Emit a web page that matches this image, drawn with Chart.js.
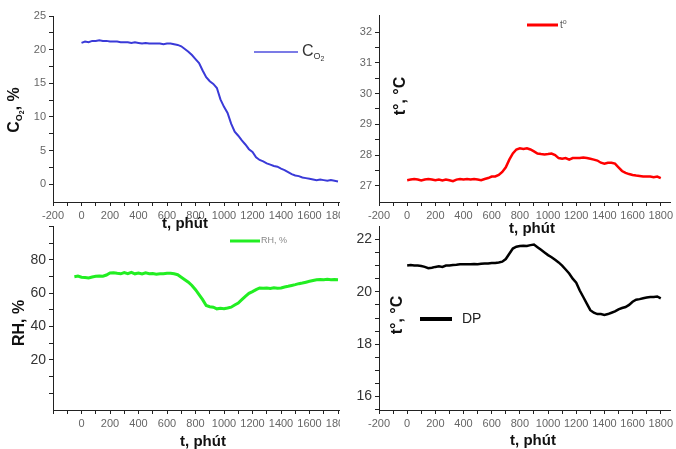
<!DOCTYPE html>
<html>
<head>
<meta charset="utf-8">
<script src="https://cdn.jsdelivr.net/npm/chart.js@4.4.1/dist/chart.umd.min.js"></script>
<style>
  html, body { margin: 0; padding: 0; background: #fff; }
  #wrap { position: relative; width: 676px; height: 449px; overflow: hidden; }
  .box { position: absolute; overflow: hidden; }
  .box canvas { position: absolute; }
</style>
</head>
<body>
<div id="wrap">
  <div class="box" style="left:0;top:0;width:340px;height:232px"><canvas id="c1" width="676" height="449" style="left:0;top:0"></canvas></div>
  <div class="box" style="left:336px;top:0;width:340px;height:236px"><canvas id="c2" width="676" height="449" style="left:-336px;top:0"></canvas></div>
  <div class="box" style="left:0;top:225px;width:340px;height:224px"><canvas id="c3" width="676" height="449" style="left:0;top:-225px"></canvas></div>
  <div class="box" style="left:336px;top:225px;width:340px;height:224px"><canvas id="c4" width="676" height="449" style="left:-336px;top:-225px"></canvas></div>
</div>
<script>
// thoi gian (phut)
const minutes = [0,25,50,75,100,125,150,175,200,225,250,275,300,325,350,375,400,425,450,475,
  500,525,550,575,600,625,650,675,700,725,750,775,800,825,850,875,900,925,950,975,
  1000,1025,1050,1075,1100,1125,1150,1175,1200,1225,1250,1275,1300,1325,1350,1375,1400,1425,1450,1475,
  1500,1525,1550,1575,1600,1625,1650,1675,1700,1725,1750,1775,1800];
const rhMinutes = [-50,-25].concat(minutes);

const co2 = [21.0,21.2,21.1,21.3,21.3,21.4,21.3,21.3,21.2,21.2,21.2,21.1,21.1,21.1,21.0,21.1,21.0,20.9,21.0,20.9,
  20.9,20.9,20.9,20.8,20.9,20.9,20.8,20.7,20.5,20.1,19.7,19.2,18.6,18.0,16.9,15.9,15.3,14.9,14.3,12.6,
  11.5,10.6,9.0,7.8,7.2,6.5,5.9,5.2,4.8,4.0,3.6,3.4,3.1,2.9,2.7,2.6,2.3,2.1,1.8,1.5,
  1.3,1.2,1.0,0.9,0.8,0.7,0.6,0.7,0.6,0.5,0.6,0.5,0.4];

const temp = [27.18,27.2,27.22,27.2,27.17,27.2,27.22,27.2,27.18,27.2,27.17,27.2,27.18,27.15,27.2,27.22,27.2,27.22,27.2,27.22,
  27.2,27.18,27.22,27.25,27.3,27.3,27.35,27.45,27.6,27.85,28.05,28.18,28.22,28.2,28.22,28.18,28.12,28.05,28.03,28.02,
  28.03,28.05,28.0,27.9,27.88,27.9,27.85,27.9,27.9,27.9,27.92,27.9,27.88,27.85,27.82,27.75,27.72,27.75,27.75,27.72,
  27.6,27.48,27.42,27.38,27.35,27.33,27.32,27.3,27.3,27.3,27.28,27.3,27.25];

const rh = [69.8,70.2,69.5,69.3,69.0,69.6,70.0,70.2,70.1,70.8,72.0,72.2,71.8,71.5,72.3,71.6,72.4,71.5,72.0,71.4,72.1,71.6,
  71.7,71.3,71.6,71.5,71.8,71.9,71.5,71.0,69.5,68.0,66.5,64.5,62.0,59.0,56.0,52.5,51.8,51.5,50.5,50.8,
  50.6,51.0,51.5,52.8,54.0,56.0,58.0,59.8,60.8,62.0,63.0,62.8,63.0,62.7,63.1,62.8,63.0,63.6,64.0,64.5,
  65.0,65.6,66.0,66.5,67.0,67.5,68.0,68.1,68.0,68.2,68.0,68.1,68.0];

const dp = [21.0,21.02,21.0,21.0,20.98,20.95,20.9,20.92,20.95,20.97,20.95,21.0,21.0,21.02,21.03,21.05,21.05,21.05,21.05,21.06,
  21.05,21.07,21.08,21.08,21.1,21.1,21.12,21.15,21.25,21.45,21.65,21.72,21.75,21.76,21.75,21.78,21.8,21.7,21.6,21.5,
  21.4,21.32,21.22,21.12,21.0,20.85,20.7,20.5,20.35,20.05,19.8,19.55,19.3,19.2,19.15,19.15,19.12,19.15,19.2,19.25,
  19.33,19.38,19.42,19.5,19.62,19.7,19.72,19.75,19.78,19.8,19.8,19.82,19.75];

// vach chia truc
const xTicks = [-200,-100,0,100,200,300,400,500,600,700,800,900,1000,1100,1200,1300,1400,1500,1600,1700,1800];
const xLabels = [-200,0,200,400,600,800,1000,1200,1400,1600,1800];
const xLabelsRH = [0,200,400,600,800,1000,1200,1400,1600,1800];

const co2Ticks = [0,2.5,5,7.5,10,12.5,15,17.5,20,22.5,25];
const co2Labels = [0,5,10,15,20,25];
const tempTicks = [27,27.5,28,28.5,29,29.5,30,30.5,31,31.5,32];
const tempLabels = [27,28,29,30,31,32];
const rhTicks = [0,10,20,30,40,50,60,70,80,90,100];
const rhLabels = [20,40,60,80];
const dpTicks = [15.5,16,16.5,17,17.5,18,18.5,19,19.5,20,20.5,21,21.5,22];
const dpLabels = [16,18,20,22];

const FONT = "'Liberation Sans', Arial, sans-serif";

function drawRich(ctx, x, y, segs, rotate, center) {
  ctx.save();
  ctx.translate(x, y);
  if (rotate) ctx.rotate(-Math.PI / 2);
  let total = 0;
  segs.forEach(s => { ctx.font = s.font; total += ctx.measureText(s.t).width; });
  let cx = center ? -total / 2 : 0;
  ctx.textBaseline = 'middle';
  ctx.textAlign = 'left';
  segs.forEach(s => {
    ctx.font = s.font;
    ctx.fillStyle = s.color || '#111';
    ctx.fillText(s.t, cx, s.dy || 0);
    cx += ctx.measureText(s.t).width;
  });
  ctx.restore();
}

function makePanel(id, p) {
  const items = p.items;
  const textPlugin = {
    id: 'panelText',
    afterDraw(chart) {
      const ctx = chart.ctx;
      // legend line
      const lg = p.legend;
      ctx.save();
      ctx.strokeStyle = lg.color;
      ctx.lineWidth = lg.width;
      ctx.beginPath();
      ctx.moveTo(lg.x1, lg.y);
      ctx.lineTo(lg.x2, lg.y);
      ctx.stroke();
      ctx.restore();
      drawRich(ctx, lg.x2 + lg.gap, lg.y, lg.segs, false, false);
      items.forEach(it => drawRich(ctx, it.x, it.y, it.segs, it.rotate, true));
    }
  };

  new Chart(id, {
    type: 'line',
    data: {
      datasets: [{
        label: p.label,
        data: p.xs.map((m, i) => ({ x: m, y: p.ys[i] })),
        borderColor: p.color,
        borderWidth: p.lineWidth,
        pointRadius: 0,
        tension: 0,
        fill: false
      }]
    },
    options: {
      responsive: false,
      animation: false,
      events: [],
      layout: { padding: p.padding },
      plugins: { legend: { display: false }, tooltip: { enabled: false } },
      scales: {
        x: {
          type: 'linear',
          min: p.xMin, max: p.xMax,
          afterBuildTicks(s) { s.ticks = xTicks.map(v => ({ value: v })); },
          afterFit(s) { s.height = 20; },
          border: { display: true, color: '#222', width: 1 },
          grid: { display: true, drawOnChartArea: false, drawTicks: true, tickLength: 4, tickColor: '#222' },
          ticks: {
            autoSkip: false, maxRotation: 0, padding: 3,
            color: '#666', font: { family: FONT, size: 11 },
            callback: v => p.xLabels.includes(v) ? String(v) : ''
          }
        },
        y: {
          type: 'linear',
          min: p.yMin, max: p.yMax,
          afterBuildTicks(s) { s.ticks = p.yTicks.map(v => ({ value: v })); },
          afterFit(s) { s.width = 40; },
          border: { display: true, color: '#222', width: 1 },
          grid: { display: true, drawOnChartArea: false, drawTicks: true, tickLength: 4, tickColor: '#222' },
          ticks: {
            autoSkip: false, padding: 3,
            color: p.yColor, font: { family: FONT, size: p.ySize },
            callback: v => p.yLabels.includes(v) ? String(v) : ''
          }
        }
      }
    },
    plugins: [textPlugin]
  });
}

const bold16 = 'bold 16px ' + FONT;
const bold15 = 'bold 15px ' + FONT;

// CO2
makePanel('c1', {
  label: 'CO2', xs: minutes, ys: co2, color: '#3a3ad8', lineWidth: 2,
  padding: { left: 13, right: 336, top: 16, bottom: 227 },
  xMin: -200, xMax: 1814, xLabels: xLabels,
  yMin: -2.65, yMax: 25, yTicks: co2Ticks, yLabels: co2Labels, yColor: '#666', ySize: 11,
  legend: { x1: 254, x2: 298, y: 52, color: '#7b7be6', width: 2, gap: 4,
    segs: [{ t: 'C', font: '16px ' + FONT, color: '#333' },
           { t: 'O', font: '9px ' + FONT, color: '#333', dy: 5 },
           { t: '2', font: '7px ' + FONT, color: '#333', dy: 7 }] },
  items: [
    { x: 15, y: 110, rotate: true, segs: [
      { t: 'C', font: bold16 }, { t: 'O', font: 'bold 9px ' + FONT, dy: 5 },
      { t: '2', font: 'bold 7px ' + FONT, dy: 7 }, { t: ', %', font: bold16 }] },
    { x: 185, y: 224, segs: [{ t: 't, phút', font: bold15 }] }
  ]
});

// nhiet do
makePanel('c2', {
  label: 't°', xs: minutes, ys: temp, color: '#ff0000', lineWidth: 2.5,
  padding: { left: 339, right: 0, top: 15, bottom: 227 },
  xMin: -200, xMax: 1870, xLabels: xLabels,
  yMin: 26.47, yMax: 32.56, yTicks: tempTicks, yLabels: tempLabels, yColor: '#666', ySize: 11,
  legend: { x1: 527, x2: 558, y: 25, color: '#ff0000', width: 3, gap: 2,
    segs: [{ t: 't', font: '10px ' + FONT, color: '#555' },
           { t: 'o', font: '7px ' + FONT, color: '#555', dy: -3 }] },
  items: [
    { x: 401, y: 96, rotate: true, segs: [{ t: 't°, °C', font: bold16 }] },
    { x: 532, y: 229, segs: [{ t: 't, phút', font: bold15 }] }
  ]
});

// do am
makePanel('c3', {
  label: 'RH, %', xs: rhMinutes, ys: rh, color: '#22ee22', lineWidth: 3,
  padding: { left: 13, right: 336, top: 226, bottom: 19 },
  xMin: -200, xMax: 1814, xLabels: xLabelsRH,
  yMin: -10.2, yMax: 100.2, yTicks: rhTicks, yLabels: rhLabels, yColor: '#333', ySize: 14,
  legend: { x1: 230, x2: 260, y: 241, color: '#22ee22', width: 3, gap: 1,
    segs: [{ t: 'RH, %', font: '9px ' + FONT, color: '#888' }] },
  items: [
    { x: 20, y: 323, rotate: true, segs: [{ t: 'RH, %', font: bold16 }] },
    { x: 203, y: 442, segs: [{ t: 't, phút', font: bold15 }] }
  ]
});

// diem suong
makePanel('c4', {
  label: 'DP', xs: minutes, ys: dp, color: '#000000', lineWidth: 2.5,
  padding: { left: 339, right: 0, top: 226, bottom: 19 },
  xMin: -200, xMax: 1870, xLabels: xLabels,
  yMin: 15.49, yMax: 22.51, yTicks: dpTicks, yLabels: dpLabels, yColor: '#333', ySize: 14,
  legend: { x1: 420, x2: 452, y: 319, color: '#000000', width: 4, gap: 10,
    segs: [{ t: 'DP', font: '14px ' + FONT, color: '#222' }] },
  items: [
    { x: 398, y: 315, rotate: true, segs: [{ t: 't°, °C', font: bold16 }] },
    { x: 533, y: 441, segs: [{ t: 't, phút', font: bold15 }] }
  ]
});
</script>
</body>
</html>
